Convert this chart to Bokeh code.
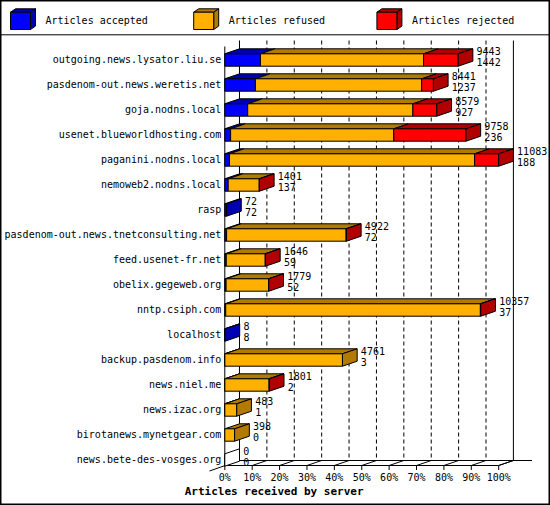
from bokeh.plotting import figure
from bokeh.models import Range1d
from bokeh.embed import file_html
from bokeh.resources import INLINE
from bokeh.core.properties import value

# ---------------- data ----------------
servers = [
    "outgoing.news.lysator.liu.se",
    "pasdenom-out.news.weretis.net",
    "goja.nodns.local",
    "usenet.blueworldhosting.com",
    "paganini.nodns.local",
    "nemoweb2.nodns.local",
    "rasp",
    "pasdenom-out.news.tnetconsulting.net",
    "feed.usenet-fr.net",
    "obelix.gegeweb.org",
    "nntp.csiph.com",
    "localhost",
    "backup.pasdenom.info",
    "news.niel.me",
    "news.izac.org",
    "birotanews.mynetgear.com",
    "news.bete-des-vosges.org",
]
offered = [9443, 8441, 8579, 9758, 11083, 1401, 72, 4922, 1646, 1779, 10357, 8, 4761, 1801, 483, 398, 0]
accepted = [1442, 1237, 927, 236, 188, 137, 72, 72, 59, 52, 37, 8, 3, 2, 1, 0, 0]
rejected = [1400, 475, 970, 2920, 975, 6, 0, 12, 9, 8, 15, 0, 0, 5, 0, 0, 0]
refused = [o - a - r for o, a, r in zip(offered, accepted, rejected)]

series_names = ["Articles accepted", "Articles refused", "Articles rejected"]
pct_ticks = [0, 10, 20, 30, 40, 50, 60, 70, 80, 90, 100]
tick_labels = ["0%", "10%", "20%", "30%", "40%", "50%", "60%", "70%", "80%", "90%", "100%"]
x_title = "Articles received by server"

# ---------------- styles / geometry ----------------
front_colors = ["#0000FF", "#FFB000", "#FF0000"]
shade_colors = ["#0000B0", "#B07B00", "#B00000"]
FONT = "DejaVu Sans Mono"

FIG_W, FIG_H, OFF = 550, 505, 0
PX_PER_PCT = 2.739      # pixels per percent on the front plane
X0 = 224.3              # x of 0 %
ROW0 = 59.5             # y of the first row centre
ROW_PX = 25.0           # pixels per row
TSHIFT = -4.0           # text baseline correction (px)


def X(px):
    return (px - X0) / PX_PER_PCT


def Y(py):
    return (py - ROW0) / ROW_PX


def TY(py):
    return Y(py + TSHIFT)


DX = 14.7 / PX_PER_PCT
DY = 5.0 / ROW_PX
HALF = 6.2 / ROW_PX

p = figure(width=FIG_W, height=FIG_H, output_backend="svg", toolbar_location=None,
           x_range=Range1d(X(OFF), X(OFF + FIG_W)),
           y_range=Range1d(Y(OFF + FIG_H), Y(OFF)),
           x_axis_type=None, y_axis_type=None, min_border=0)
p.grid.visible = False
p.background_fill_color = "white"
p.border_fill_color = "white"
p.outline_line_color = "black"
p.outline_line_width = 2

# ---------------- back plane & floor ----------------
grid_x = [t + DX for t in pct_ticks[1:-1]]
p.segment(x0=grid_x, y0=[Y(40)] * len(grid_x), x1=grid_x, y1=[Y(460)] * len(grid_x),
          line_color="black", line_width=1, line_dash="4 3")
p.segment(x0=[DX, 100 + DX], y0=[Y(40)] * 2, x1=[DX, 100 + DX], y1=[Y(460)] * 2,
          line_color="black", line_width=1)
# front left edge
p.segment(x0=[0], y0=[Y(46)], x1=[0], y1=[Y(465)], line_color="black", line_width=1)
# floor
p.segment(x0=[0, DX, X(209), 100], y0=[Y(465), Y(460), Y(470.5), Y(465)],
          x1=[100, X(531.5), DX, 100 + DX], y1=[Y(465), Y(460), Y(460), Y(460)],
          line_color="black", line_width=1)
p.segment(x0=pct_ticks, y0=[Y(465)] * len(pct_ticks), x1=pct_ticks, y1=[Y(469.5)] * len(pct_ticks),
          line_color="black", line_width=1)
p.segment(x0=pct_ticks, y0=[Y(465)] * len(pct_ticks), x1=[t + DX for t in pct_ticks],
          y1=[Y(460)] * len(pct_ticks), line_color="black", line_width=1)

# ---------------- 3D bars ----------------
scale = 100.0 / max(offered)
fl, fr, ft, fb, fc = [], [], [], [], []
txs, tys, tcs = [], [], []
sxs, sys_, scs = [], [], []
for i in range(len(servers)):
    top, bot = i - HALF, i + HALF
    left = 0.0
    last = None
    for k, v in enumerate([accepted[i], refused[i], rejected[i]]):
        if v <= 0:
            continue
        right = left + v * scale
        fl.append(left); fr.append(right); ft.append(top); fb.append(bot); fc.append(front_colors[k])
        txs.append([left, right, right + DX, left + DX])
        tys.append([top, top, top - DY, top - DY])
        tcs.append(shade_colors[k])
        left = right
        last = k
    side_col = shade_colors[last] if last is not None else "white"
    if last is None:
        fl.append(0.0); fr.append(0.0); ft.append(top); fb.append(bot); fc.append("white")
    sxs.append([left, left, left + DX, left + DX])
    sys_.append([top, bot, bot - DY, top - DY])
    scs.append(side_col)

p.patches(xs=txs, ys=tys, fill_color=tcs, line_color="black", line_width=1)
p.quad(left=fl, right=fr, top=ft, bottom=fb, fill_color=fc, line_color="black", line_width=1)
p.patches(xs=sxs, ys=sys_, fill_color=scs, line_color="black", line_width=1)

# ---------------- texts ----------------
rows = list(range(len(servers)))
p.text(x=[X(220.8)] * len(servers), y=[TY(ROW0 + ROW_PX * r + 3.6) for r in rows], text=servers,
       text_align="right", text_baseline="alphabetic", text_font=value(FONT),
       text_font_size="10px", text_color="black")

num_x = [o * scale + DX + 3.7 / PX_PER_PCT for o in offered]
p.text(x=num_x, y=[TY(ROW0 + ROW_PX * r - 4.8) for r in rows], text=[str(o) for o in offered],
       text_align="left", text_baseline="alphabetic", text_font=value(FONT),
       text_font_size="10px", text_color="black")
p.text(x=num_x, y=[TY(ROW0 + ROW_PX * r + 5.8) for r in rows], text=[str(a) for a in accepted],
       text_align="left", text_baseline="alphabetic", text_font=value(FONT),
       text_font_size="10px", text_color="black")

p.text(x=pct_ticks, y=[TY(480.7)] * len(pct_ticks), text=tick_labels, text_align="center",
       text_baseline="alphabetic", text_font=value(FONT), text_font_size="10px", text_color="black")

p.text(x=[X(273.6)], y=[TY(494.5)], text=[x_title], text_align="center", text_baseline="alphabetic",
       text_font=value(FONT), text_font_size="11px", text_font_style="bold", text_color="black")

# ---------------- legend ----------------
leg_left = [10.0, 193.2, 376.4]
lfx, lfy, lxs, lys, lsx, lsy = [], [], [], [], [], []
for lx in leg_left:
    lfx.append([X(lx), X(lx + 20), X(lx + 20), X(lx)])
    lfy.append([Y(11.7), Y(11.7), Y(29), Y(29)])
    lxs.append([X(lx), X(lx + 20), X(lx + 25), X(lx + 5)])
    lys.append([Y(11.7), Y(11.7), Y(8.3), Y(8.3)])
    lsx.append([X(lx + 20), X(lx + 20), X(lx + 25), X(lx + 25)])
    lsy.append([Y(11.7), Y(29), Y(25.6), Y(8.3)])
p.patches(xs=lxs, ys=lys, fill_color=shade_colors, line_color="black", line_width=1)
p.patches(xs=lsx, ys=lsy, fill_color=shade_colors, line_color="black", line_width=1)
p.patches(xs=lfx, ys=lfy, fill_color=front_colors, line_color="black", line_width=1)
p.text(x=[X(lx + 35) for lx in leg_left], y=[TY(24)] * 3, text=series_names, text_align="left",
       text_baseline="alphabetic", text_font=value(FONT), text_font_size="10px", text_color="black")
p.segment(x0=[X(OFF)], y0=[Y(34.3)], x1=[X(OFF + FIG_W)], y1=[Y(34.3)], line_color="black", line_width=1)

open("out.html", "w").write(file_html(p, INLINE))
